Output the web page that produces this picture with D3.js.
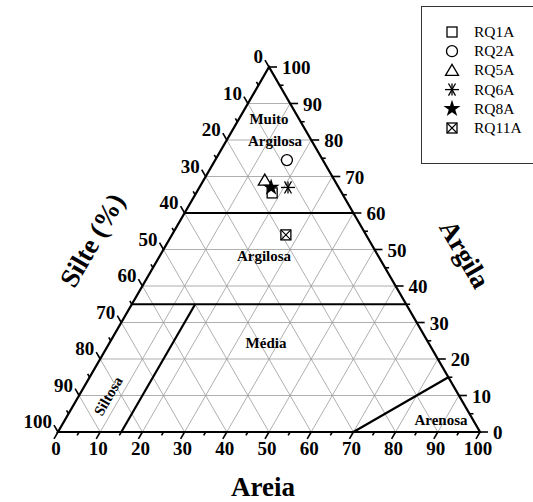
<!DOCTYPE html>
<html><head><meta charset="utf-8">
<script src="https://cdn.jsdelivr.net/npm/d3@7"></script>
<style>body{margin:0;background:#fff}svg{display:block}text{font-family:"Liberation Serif","Times New Roman",serif}</style>
</head><body>
<script>
// Data: sand (Areia) and clay (Argila) percent; silt = 100 - sand - clay
const samples = ["RQ1A","RQ2A","RQ5A","RQ6A","RQ8A","RQ11A"];
const sandValues = [18, 17, 14.5, 21, 17, 27];
const clayValues = [65.5, 74.5, 69, 67, 67, 54];
const tickValues = [0,10,20,30,40,50,60,70,80,90,100];
const gridValues = [10,20,30,40,50,60,70,80,90];
const minorValues = [5,15,25,35,45,55,65,75,85,95];
// class boundaries as [sand, clay] pairs
const boundaries = [
  [[0,60],[40,60]],
  [[0,35],[65,35]],
  [[15,0],[15,35]],
  [[70,0],[85,15]]
];
const classNames = ["Muito","Argilosa","Argilosa","Média","Siltosa","Arenosa"];

const W=533,H=502;
const svg=d3.select("body").append("svg").attr("width",W).attr("height",H);
const xS=d3.scaleLinear().domain([0,100]).range([58,480]);
const yS=d3.scaleLinear().domain([0,100]).range([432,67]);
const P=(s,c)=>[xS(s+c/2),yS(c)];

const g=svg.append("g");
// grid
const gl=g.append("g").attr("stroke","#9a9a9a").attr("stroke-width",0.8).attr("fill","none");
gridValues.forEach(v=>{
  let a=P(0,v),b=P(100-v,v); gl.append("line").attr("x1",a[0]).attr("y1",a[1]).attr("x2",b[0]).attr("y2",b[1]);
  a=P(v,0);b=P(v,100-v); gl.append("line").attr("x1",a[0]).attr("y1",a[1]).attr("x2",b[0]).attr("y2",b[1]);
  a=P(0,100-v);b=P(100-v,0); gl.append("line").attr("x1",a[0]).attr("y1",a[1]).attr("x2",b[0]).attr("y2",b[1]);
});
// boundaries
const bl=g.append("g").attr("stroke","#000").attr("stroke-width",2.2);
boundaries.forEach(([p,q])=>{const a=P(p[0],p[1]),b=P(q[0],q[1]);
  bl.append("line").attr("x1",a[0]).attr("y1",a[1]).attr("x2",b[0]).attr("y2",b[1]);});
// frame
const corners=[P(0,0),P(100,0),P(0,100)];
g.append("path").attr("d","M"+corners.map(c=>c.join(",")).join("L")+"Z").attr("fill","none").attr("stroke","#000").attr("stroke-width",2.2).attr("stroke-linejoin","miter");

// ticks
const tk=g.append("g").attr("stroke","#000").attr("stroke-width",1.6);
const c60=0.5,s60=Math.sqrt(3)/2;
function tick(pt,dx,dy,len){tk.append("line").attr("x1",pt[0]).attr("y1",pt[1]).attr("x2",pt[0]+dx*len).attr("y2",pt[1]+dy*len);}
tickValues.forEach(v=>{
  tick(P(v,0),-c60,s60,8);          // sand axis (bottom)
  tick(P(0,100-v),-c60,-s60,8);     // silt axis (left)
  tick(P(100-v,v),1,0,8);           // clay axis (right)
});
minorValues.forEach(v=>{
  tick(P(v,0),-c60,s60,4);
  tick(P(0,100-v),-c60,-s60,4);
  tick(P(100-v,v),1,0,4);
});

// tick labels
const lab=g.append("g").attr("font-weight","bold").attr("font-size",19).attr("fill","#000");
tickValues.forEach(v=>{
  let p=P(v,0);
  lab.append("text").attr("x",p[0]-2).attr("y",p[1]+23).attr("text-anchor","middle").text(v);
  p=P(0,100-v);
  lab.append("text").attr("x",p[0]-6).attr("y",p[1]-4).attr("text-anchor","end").text(v);
  p=P(100-v,v);
  lab.append("text").attr("x",p[0]+13).attr("y",p[1]+7).attr("text-anchor","start").text(v);
});

// axis titles
const tt=g.append("g").attr("font-weight","bold").attr("font-size",27);
tt.append("text").attr("x",263).attr("y",496).attr("text-anchor","middle").text("Areia");
tt.append("text").attr("transform","translate(92,240) rotate(-60)").attr("text-anchor","middle").attr("dy","0.35em").text("Silte (%)");
tt.append("text").attr("transform","translate(465,254) rotate(60)").attr("text-anchor","middle").attr("dy","0.35em").text("Argila");

// class names
const cn=g.append("g").attr("font-weight","bold").attr("font-size",15).attr("text-anchor","middle");
cn.append("text").attr("x",269).attr("y",124).text(classNames[0]);
cn.append("text").attr("x",275).attr("y",146).text(classNames[1]);
cn.append("text").attr("x",264).attr("y",261).text(classNames[2]);
cn.append("text").attr("x",266).attr("y",348).text(classNames[3]);
cn.append("text").attr("transform","translate(108,396) rotate(-60)").attr("dy","0.35em").text(classNames[4]);
cn.append("text").attr("x",441).attr("y",425).text(classNames[5]);

// symbols
function drawSym(sel,i,x,y){
  const gg=sel.append("g").attr("transform",`translate(${x},${y})`).attr("stroke","#000").attr("stroke-width",1.3).attr("fill","none");
  if(i===0){gg.append("rect").attr("x",-5).attr("y",-5).attr("width",10).attr("height",10);}
  else if(i===1){gg.append("circle").attr("r",5.5);}
  else if(i===2){gg.append("path").attr("d","M0,-6L6.5,5L-6.5,5Z");}
  else if(i===3){[0,60,120].forEach(a=>{const r=a*Math.PI/180,dx=Math.cos(r)*7,dy=Math.sin(r)*7;
     gg.append("line").attr("x1",-dx).attr("y1",-dy).attr("x2",dx).attr("y2",dy);});
     gg.append("line").attr("x1",0).attr("y1",-6).attr("x2",0).attr("y2",6);}
  else if(i===4){gg.append("path").attr("d",d3.symbol(d3.symbolStar,90)()).attr("fill","#000").attr("stroke","none");}
  else {gg.append("rect").attr("x",-5).attr("y",-5).attr("width",10).attr("height",10);
     gg.append("path").attr("d","M-5,-5L5,5M5,-5L-5,5").attr("stroke-width",1.1);}
}
const pts=g.append("g");
samples.forEach((s,i)=>{const p=P(sandValues[i],clayValues[i]);drawSym(pts,i,p[0],p[1]);});

// legend
const lg=svg.append("g");
lg.append("rect").attr("x",421.5).attr("y",6.5).attr("width",120).attr("height",157).attr("fill","#fff").attr("stroke","#333").attr("stroke-width",1);
samples.forEach((s,i)=>{
  const y=32+i*19.2;
  drawSym(lg,i,452,y);
  lg.append("text").attr("x",474).attr("y",y+5).attr("font-size",15.5).text(s);
});
</script>
</body></html>
